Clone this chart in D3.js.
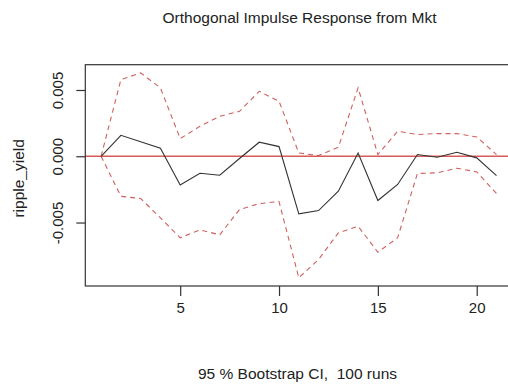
<!DOCTYPE html>
<html>
<head>
<meta charset="utf-8">
<script src="https://cdn.jsdelivr.net/npm/d3@7"></script>
<style>
html,body{margin:0;padding:0;background:#fff;}
svg{display:block;overflow:hidden;}
text{font-family:"Liberation Sans",Arial,sans-serif;fill:#222;white-space:pre;}
</style>
</head>
<body>
<svg id="chart" width="508" height="390"></svg>
<script>
const horizon = d3.range(1, 22);
const irf = [0, 0.00158, 0.0011, 0.0006, -0.00216, -0.00128, -0.00143, -0.00017, 0.00106, 0.00073,
  -0.00434, -0.0041, -0.00264, 0.00025, -0.00334, -0.00213, 0.00013, -0.00007, 0.0003, -0.00012, -0.00146];
const upper = [0, 0.00578, 0.00629, 0.00516, 0.00133, 0.00226, 0.00302, 0.00339, 0.0049, 0.00415,
  0.00025, 0.00005, 0.00068, 0.00516, 0.00013, 0.00189, 0.00164, 0.00171, 0.00171, 0.00146, 0.00013];
const lower = [0, -0.00302, -0.00319, -0.00465, -0.00615, -0.00555, -0.00593, -0.00402, -0.00357, -0.00342,
  -0.00917, -0.00779, -0.00578, -0.00528, -0.00724, -0.00615, -0.0013, -0.00125, -0.0009, -0.00118, -0.00281];
const xTicks = [5, 10, 15, 20];
const yTicks = [0.005, 0, -0.005];
const yTickLabels = ["0.005", "0.000", "-0.005"];
const title = "Orthogonal Impulse Response from Mkt";
const yTitle = "ripple_yield";
const xTitle = "95 % Bootstrap CI,  100 runs";

const svg = d3.select("#chart");
const box = {left: 85.3, right: 512.3, top: 64.7, bottom: 286};

const all = irf.concat(upper, lower);
const ymin = d3.min(all), ymax = d3.max(all);
const yr = ymax - ymin;
const x = d3.scaleLinear().domain([1 - 0.8, 21 + 0.8]).range([box.left, box.right]);
const y = d3.scaleLinear().domain([ymin - 0.04 * yr, ymax + 0.04 * yr]).range([box.bottom, box.top]);

// zero line
svg.append("line")
  .attr("x1", box.left).attr("x2", box.right)
  .attr("y1", y(0)).attr("y2", y(0))
  .attr("stroke", "#d85a5a").attr("stroke-width", 1.4);

const line = d3.line().x((d, i) => x(horizon[i])).y(d => y(d));

[upper, lower].forEach(s => {
  svg.append("path").attr("d", line(s))
    .attr("fill", "none").attr("stroke", "#d06060").attr("stroke-width", 1.1)
    .attr("stroke-dasharray", "5,4");
});
svg.append("path").attr("d", line(irf))
  .attr("fill", "none").attr("stroke", "#333").attr("stroke-width", 1.1);

// box
svg.append("rect")
  .attr("x", box.left).attr("y", box.top)
  .attr("width", box.right - box.left).attr("height", box.bottom - box.top)
  .attr("fill", "none").attr("stroke", "#333").attr("stroke-width", 1.2);

// x axis
const xAxis = d3.axisBottom(x).tickValues(xTicks).tickSize(10).tickPadding(6).tickFormat(d3.format("d"));
const gx = svg.append("g").attr("transform", `translate(0,${box.bottom})`).call(xAxis);
gx.select(".domain").remove();
gx.selectAll("line").attr("stroke", "#333").attr("stroke-width", 1.2);
gx.selectAll("text").attr("font-size", 15).attr("fill", "#222")
  .attr("font-family", "Liberation Sans, Arial, sans-serif");

// y axis
const yAxis = d3.axisLeft(y).tickValues(yTicks).tickSize(9).tickFormat((d, i) => yTickLabels[i]);
const gy = svg.append("g").attr("transform", `translate(${box.left},0)`).call(yAxis);
gy.select(".domain").remove();
gy.selectAll("line").attr("stroke", "#333").attr("stroke-width", 1.2);
gy.selectAll("text")
  .attr("font-size", 15).attr("fill", "#222")
  .attr("font-family", "Liberation Sans, Arial, sans-serif")
  .attr("text-anchor", "middle").attr("dy", null).attr("x", null)
  .attr("transform", "translate(-22,0) rotate(-90)");

// titles
svg.append("text").attr("x", 299.5).attr("y", 23).attr("text-anchor", "middle")
  .attr("font-size", 15.5).text(title);
svg.append("text").attr("x", 297.5).attr("y", 379).attr("text-anchor", "middle")
  .attr("font-size", 15.5).text(xTitle);
svg.append("text").attr("transform", `translate(24,${(box.top + box.bottom) / 2 + 3}) rotate(-90)`)
  .attr("text-anchor", "middle").attr("font-size", 15.5).text(yTitle);
</script>
</body>
</html>
